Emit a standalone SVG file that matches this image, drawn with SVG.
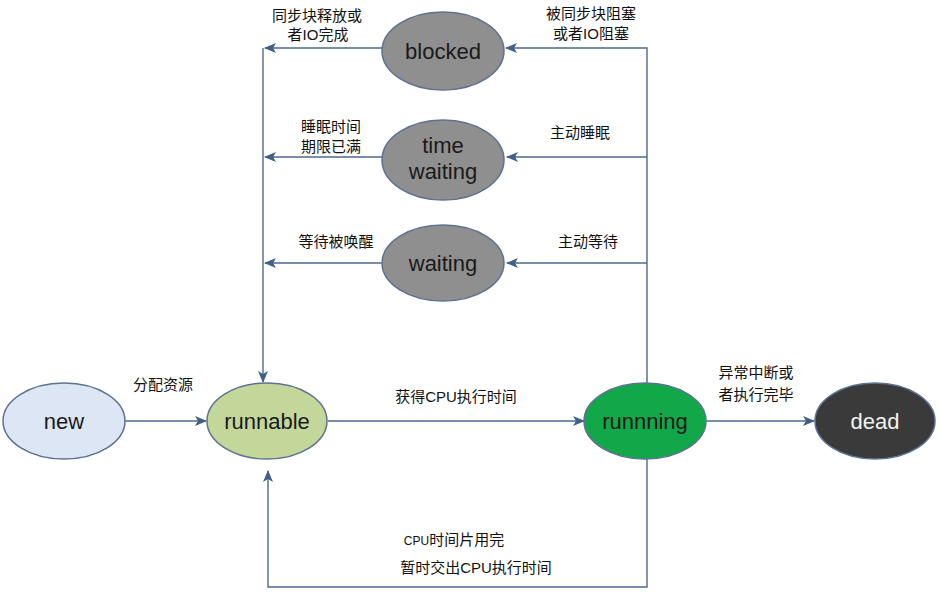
<svg xmlns="http://www.w3.org/2000/svg" width="942" height="598" viewBox="0 0 942 598">
<style>
.n{stroke:#5d7191;stroke-width:1.5}
.t{font-family:"Liberation Sans",Arial,sans-serif;font-size:22px;fill:#1a1a1a;text-anchor:middle}
.l{font-family:"Liberation Sans","Noto Sans CJK SC",sans-serif;font-size:15px;fill:#111;text-anchor:middle}
.c{fill:none;stroke:#4a6a8e;stroke-width:1.4}
</style>
<defs>
<marker id="ah" viewBox="0 0 12 10" refX="11" refY="5" markerWidth="12" markerHeight="10" markerUnits="userSpaceOnUse" orient="auto">
<path d="M0,0 L12,5 L0,10 L3,5 Z" fill="#3f5f86"/>
</marker>
</defs>
<rect width="942" height="598" fill="#ffffff"/>
<g id="connectors">
<path class="c" d="M125,421 H206" marker-end="url(#ah)"/>
<path class="c" d="M328,421 H584" marker-end="url(#ah)"/>
<path class="c" d="M706,421 H814" marker-end="url(#ah)"/>
<path class="c" d="M647,383 V48 H506" marker-end="url(#ah)"/>
<path class="c" d="M647,157 H507" marker-end="url(#ah)"/>
<path class="c" d="M647,263 H507" marker-end="url(#ah)"/>
<path class="c" d="M382,48 H265" marker-end="url(#ah)"/>
<path class="c" d="M382,157 H265" marker-end="url(#ah)"/>
<path class="c" d="M382,263 H265" marker-end="url(#ah)"/>
<path class="c" d="M263,48 V382" marker-end="url(#ah)"/>
<path class="c" d="M647,459 V587 H268 V471" marker-end="url(#ah)"/>
</g>
<g id="labels">
<text class="l" x="317" y="21">同步块释放或</text>
<text class="l" x="318" y="40">者IO完成</text>
<text class="l" x="591" y="19">被同步块阻塞</text>
<text class="l" x="591" y="39">或者IO阻塞</text>
<text class="l" x="331" y="132">睡眠时间</text>
<text class="l" x="331" y="152">期限已满</text>
<text class="l" x="580" y="138">主动睡眠</text>
<text class="l" x="336" y="247">等待被唤醒</text>
<text class="l" x="588" y="247">主动等待</text>
<text class="l" x="163" y="390">分配资源</text>
<text class="l" x="456" y="402">获得CPU执行时间</text>
<text class="l" x="756" y="378">异常中断或</text>
<text class="l" x="756" y="400">者执行完毕</text>
<text class="l" x="454" y="545"><tspan font-size="12">CPU</tspan>时间片用完</text>
<text class="l" x="476" y="573">暂时交出CPU执行时间</text>
</g>
<g id="new">
<ellipse class="n" cx="64" cy="421" rx="61" ry="38" fill="#dce6f4"/>
<text class="t" x="64" y="429">new</text>
</g>
<g id="runnable">
<ellipse class="n" cx="267" cy="421" rx="60" ry="38" fill="#c4d79b"/>
<text class="t" x="267" y="429">runnable</text>
</g>
<g id="runnning">
<ellipse class="n" cx="645" cy="421" rx="61" ry="38" fill="#12a84a"/>
<text class="t" x="645" y="429">runnning</text>
</g>
<g id="dead">
<ellipse class="n" cx="875" cy="421" rx="60" ry="38" fill="#3a3a3a"/>
<text class="t" x="875" y="429" style="fill:#f2f2f2">dead</text>
</g>
<g id="blocked">
<ellipse class="n" cx="443" cy="51" rx="61" ry="39" fill="#8f8f8f"/>
<text class="t" x="443" y="59">blocked</text>
</g>
<g id="time-waiting">
<ellipse class="n" cx="443" cy="160" rx="61" ry="40" fill="#8f8f8f"/>
<text class="t" x="443" y="153">time</text>
<text class="t" x="443" y="179">waiting</text>
</g>
<g id="waiting">
<ellipse class="n" cx="443" cy="263" rx="61" ry="38" fill="#8f8f8f"/>
<text class="t" x="443" y="271">waiting</text>
</g>
</svg>
